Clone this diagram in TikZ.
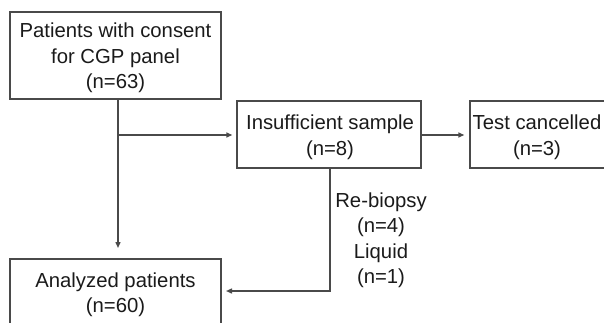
\documentclass[tikz,border=0pt]{standalone}
\usepackage{fontspec}
\setmainfont{Liberation Sans}
\usetikzlibrary{arrows.meta}
\definecolor{linec}{HTML}{4A4A4A}
\definecolor{textc}{HTML}{1A1A1A}
\tikzset{
  box/.style={draw=linec, line width=1.4pt, rectangle, inner sep=0pt},
  lbl/.style={align=center, inner sep=0pt, text=textc, font=\fontsize{20.3}{25.5}\selectfont},
  conn/.style={draw=linec, line width=1.4pt},
  arr/.style={conn, -{Triangle[length=6pt,width=5pt]}},
}
\begin{document}
\begin{tikzpicture}[x=1pt,y=-1pt]
\useasboundingbox (0,0) rectangle (604,322);
\clip (0,0) rectangle (604,322);
\node[box, minimum width=211pt, minimum height=87pt] (b1) at (115.5,55.5) {};
\node[lbl] (t1) at (115.5,58) {Patients with consent\\for CGP panel\\(n=63)};
\node[box, minimum width=184pt, minimum height=67pt] (b2) at (329,134.5) {};
\node[lbl] (t2) at (330,137) {Insufficient sample\\(n=8)};
\node[box, minimum width=140pt, minimum height=67pt] (b3) at (540,134.5) {};
\node[lbl] (t3) at (537,137) {Test cancelled\\(n=3)};
\node[box, minimum width=211pt, minimum height=80pt] (b4) at (115.5,299) {};
\node[lbl] (t4) at (115.5,294.5) {Analyzed patients\\(n=60)};
\node[lbl] (lab) at (381,240) {Re-biopsy\\(n=4)\\Liquid\\(n=1)};
\coordinate (top) at (118,99);
\coordinate (j) at (118,135);
\coordinate (down) at (118,248);
\coordinate (s2) at (330,168);
\coordinate (c2) at (330,291);
\coordinate (e4) at (226,291);
\draw[arr] (top) -- (down);
\draw[arr, shorten >=4pt] (j) -- (b2.west |- j);
\draw[arr, shorten >=5pt] (b2.east |- j) -- (b3.west |- j);
\draw[arr] (s2) -- (c2) -- (e4);
\end{tikzpicture}
\end{document}
